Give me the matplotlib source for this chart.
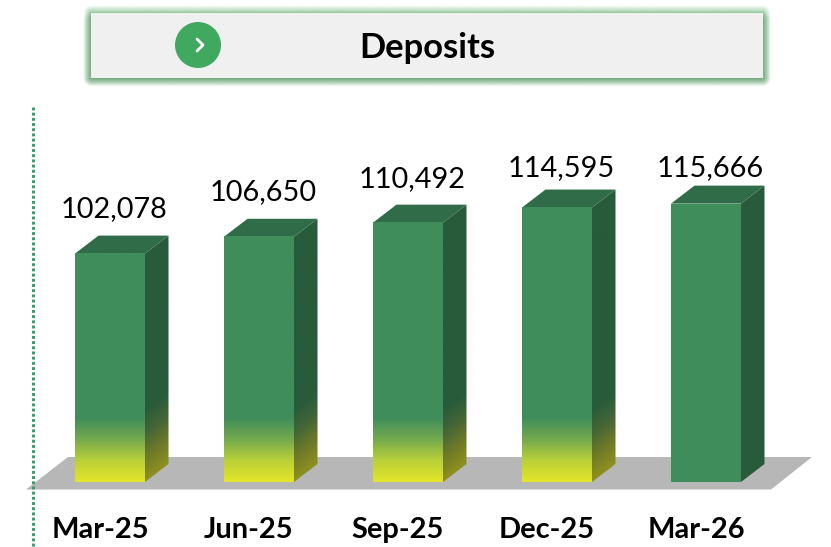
import numpy as np
import matplotlib
matplotlib.use("Agg")
import matplotlib.pyplot as plt
from matplotlib.patches import Polygon, Rectangle, Circle
from matplotlib.colors import LinearSegmentedColormap, to_rgb

categories = ["Mar-25", "Jun-25", "Sep-25", "Dec-25", "Mar-26"]
deposits = [102078, 106650, 110492, 114595, 115666]
has_fade = [True, True, True, True, False]
title = "Deposits"
label_gaps = [45, 45, 44, 40, 36]  # px above the front face

plt.rcParams["font.family"] = ["Lato", "DejaVu Sans"]

W, H = 831, 547
# one category = 149 px, one px = 271.8 deposit units, baseline at pixel 482
DX = 1 / 149
DY = 271.8
BASE = 40000
DEPTH_X = 23.5 * DX
DEPTH_Y = 18 * DY
HALF = 35 * DX
FADE = 64

FRONT = "#3f8d5b"
TOP = "#2f6c47"
SIDE = "#285b3a"
front_cmap = LinearSegmentedColormap.from_list("front", ["#e3e52a", "#b9d038", "#74a94f", FRONT], N=256)
side_cmap = LinearSegmentedColormap.from_list("side", ["#8f9020", "#6f7a28", "#456636", SIDE], N=256)


def glow(bg, x0, y0, x1, y1, reach, color, strength, zorder):
    # soft edge round a box, drawn as one image with a fading alpha
    xs = np.arange(x0 - reach - 1, x1 + reach + 1.5, 0.5)
    ys = np.arange(y0 - reach - 1, y1 + reach + 1.5, 0.5)
    gx, gy = np.meshgrid(xs, ys)
    dx = np.maximum(np.maximum(x0 - gx, gx - x1), 0)
    dy = np.maximum(np.maximum(y0 - gy, gy - y1), 0)
    d = np.hypot(dx, dy)
    rgba = np.zeros(d.shape + (4,))
    rgba[..., :3] = to_rgb(color)
    rgba[..., 3] = strength * np.clip(1 - d / reach, 0, 1)
    bg.imshow(rgba, extent=(xs[0], xs[-1], ys[-1], ys[0]), aspect="auto", zorder=zorder, interpolation="bilinear")


fig = plt.figure(figsize=(W / 100, H / 100), dpi=100)

# page furniture in pixel coordinates
bg = fig.add_axes([0, 0, 1, 1])
bg.axis("off")

bg.add_patch(Polygon([(26, 489.5), (68, 457), (812, 457), (771, 489.5)], closed=True, fc="#b7b7b7", ec="none", zorder=1))
bg.plot([32.7, 32.7], [106.5, 547], color="#2f9e68", lw=2.1, ls=(0, (1, 0.78)), zorder=2)

# banner with soft green edge
glow(bg, 91, 13, 763, 78, 8, "#7cc088", 0.8, 3)
glow(bg, 92, 20, 762, 78, 9, "#5a9064", 0.6, 3.1)
bg.add_patch(Rectangle((91, 13), 672, 65, fc="#f0f0f0", ec="none", zorder=4))
bg.add_patch(Circle((198, 45), 23, fc="#41a85f", ec="none", zorder=5))
bg.plot([197, 203, 197], [39, 45, 51], color="white", lw=2, zorder=6, solid_capstyle="round")
bg.text(427, 47.5, title, fontsize=24.8, fontweight="bold", ha="center", va="center", color="black", zorder=6)
bg.set_xlim(0, W)
bg.set_ylim(H, 0)

# bars on value axes
ax = fig.add_axes([0, 0, 1, 1])
ax.patch.set_alpha(0)
ax.axis("off")

for i, v in enumerate(deposits):
    l, r = i - HALF, i + HALF
    bar_px = (v - BASE) / DY

    # side face
    side_pts = [(r, BASE), (r + DEPTH_X, BASE + DEPTH_Y), (r + DEPTH_X, v + DEPTH_Y), (r, v)]
    if has_fade[i]:
        sy = np.linspace(0, (bar_px + 18), 200)[:, None]
        sx = np.linspace(0, 18, 24)[None, :]
        im = ax.imshow(np.clip((sy - sx) / (FADE + 8), 0, 1), cmap=side_cmap, vmin=0, vmax=1, origin="lower",
                       aspect="auto", extent=(r, r + DEPTH_X, BASE, v + DEPTH_Y), zorder=2, interpolation="bilinear")
        im.set_clip_path(Polygon(side_pts, closed=True, transform=ax.transData))
    else:
        ax.add_patch(Polygon(side_pts, closed=True, fc=SIDE, ec="none", zorder=2))

    # top face
    ax.add_patch(Polygon([(l, v), (l + DEPTH_X, v + DEPTH_Y), (r + DEPTH_X, v + DEPTH_Y), (r, v)],
                         closed=True, fc=TOP, ec="none", zorder=2))

    # front face
    if has_fade[i]:
        fy = np.linspace(0, bar_px, 300)[:, None]
        ax.imshow(np.clip(fy / FADE, 0, 1), cmap=front_cmap, vmin=0, vmax=1, origin="lower", aspect="auto",
                  extent=(l, r, BASE, v), zorder=3, interpolation="bilinear")
    else:
        ax.add_patch(Rectangle((l, BASE), r - l, v - BASE, fc=FRONT, ec="none", zorder=3))

    ax.text(i + 4 * DX, v + label_gaps[i] * DY, f"{v:,}", fontsize=20.8, ha="center", va="center",
            color="black", zorder=6)
    ax.text(i - 10 * DX, BASE - 48 * DY, categories[i], fontsize=20.9, fontweight="bold",
            ha="center", va="center", color="black", zorder=6)

# imshow resets the limits
ax.set_xlim(-110 * DX, (W - 110) * DX)
ax.set_ylim(BASE - (H - 482) * DY, BASE + 482 * DY)

fig.savefig("out.png", dpi=100)
